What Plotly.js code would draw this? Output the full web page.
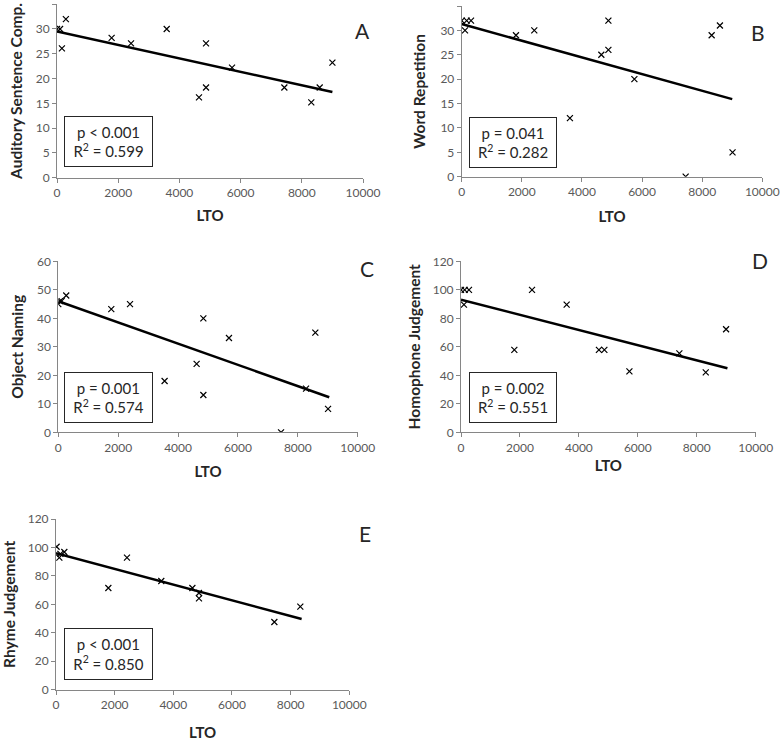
<!DOCTYPE html>
<html>
<head>
<meta charset="utf-8">
<script src="https://cdn.plot.ly/plotly-3.0.1.min.js"></script>
<style>html,body{margin:0;padding:0;background:#fff;}#chart{width:780px;height:741px;}</style>
</head>
<body>
<div id="chart"></div>
<script>
// Panel A: Auditory Sentence Comprehension
const ltoA = [0, 100, 160, 290, 1785, 2420, 3585, 4640, 4870, 4870, 5720, 7430, 8310, 8585, 9000];
const scoreA = [30, 30, 26.1, 32, 28.2, 27.1, 30, 16.2, 27.1, 18.2, 22.2, 18.2, 15.2, 18.2, 23.2];
const fitA_x = [0, 9000];
const fitA_y = [29.5, 17.3];

// Panel B: Word Repetition
const ltoB = [0, 165, 310, 110, 1805, 2415, 3600, 4645, 4880, 4880, 5745, 7450, 8315, 8590, 9010];
const scoreB = [32, 32, 32, 30, 29, 30, 12, 25, 32, 26, 20, 0, 29, 31, 5];
const fitB_x = [0, 9000];
const fitB_y = [31.3, 15.9];

// Panel C: Object Naming
const ltoC = [0, 55, 110, 265, 1770, 2395, 3550, 4620, 4845, 4845, 5700, 7440, 8275, 8585, 9010];
const scoreC = [45, 46, 46, 48, 43.2, 45, 18, 24, 40, 13.1, 33.1, 0, 15.3, 35, 8.2];
const fitC_x = [0, 9050];
const fitC_y = [46, 12.3];

// Panel D: Homophone Judgement
const ltoD = [0, 125, 270, 100, 1810, 2410, 3585, 4680, 4865, 5715, 7410, 8305, 8995];
const scoreD = [100, 100, 100, 89.6, 57.8, 100, 89.6, 57.8, 57.8, 42.8, 55.4, 42.1, 72.3];
const fitD_x = [0, 9040];
const fitD_y = [93.1, 44.9];

// Panel E: Rhyme Judgement
const ltoE = [20, 114, 150, 284, 1785, 2420, 3590, 4650, 4875, 4875, 7445, 8330];
const scoreE = [100.5, 92.8, 95.5, 96.8, 71.5, 92.8, 76.4, 71.5, 68, 64.2, 47.6, 58.4];
const fitE_x = [0, 8375];
const fitE_y = [95.9, 49.7];

const yTitles = ['Auditory Sentence Comp.', 'Word Repetition', 'Object Naming', 'Homophone Judgement', 'Rhyme Judgement'];
const panelLetters = ['A', 'B', 'C', 'D', 'E'];
const statsP = ['p < 0.001', 'p = 0.041', 'p = 0.001', 'p = 0.002', 'p < 0.001'];
const statsR2 = ['0.599', '0.282', '0.574', '0.551', '0.850'];
const yRanges = [[0, 35], [0, 35], [0, 60], [0, 120], [0, 120]];
const yDticks = [5, 5, 10, 20, 20];
const xTicks = [0, 2000, 4000, 6000, 8000, 10000];

const W = 780, H = 741;
// plot-area pixel boxes [left, right, top, bottom]
const boxes = [
  [57, 363, 4.2, 177.7],
  [461.7, 762.3, 6, 176.7],
  [58.3, 357.7, 261.3, 432.3],
  [461, 755.7, 261.3, 432.3],
  [56, 349.3, 519, 689.7]
];
const letterPos = [[362, 30], [758, 33], [367, 268], [760, 260], [365, 533]];
const statBox = [[64, 153, 116, 167], [469, 557, 117, 168], [64, 153, 372, 423], [469, 557, 372, 423], [64, 153, 628, 680]];
const xStand = [11, 13, 12, 6, 17];
const yStand = [9, 10, 9, 8, 11];

const xs = [ltoA, ltoB, ltoC, ltoD, ltoE];
const ys = [scoreA, scoreB, scoreC, scoreD, scoreE];
const fx = [fitA_x, fitB_x, fitC_x, fitD_x, fitE_x];
const fy = [fitA_y, fitB_y, fitC_y, fitD_y, fitE_y];

const font = 'Lato, "Open Sans", "Liberation Sans", sans-serif';
const traces = [];
const layout = {
  width: W, height: H,
  margin: {l: 0, r: 0, t: 0, b: 0},
  paper_bgcolor: '#ffffff', plot_bgcolor: '#ffffff',
  showlegend: false,
  font: {family: font, color: '#595959', size: 12},
  annotations: []
};

for (let i = 0; i < 5; i++) {
  const n = i === 0 ? '' : String(i + 1);
  const b = boxes[i];
  traces.push({
    x: xs[i], y: ys[i], type: 'scatter', mode: 'markers',
    xaxis: 'x' + n, yaxis: 'y' + n,
    marker: {symbol: 'x-thin-open', size: 6, color: '#000', line: {color: '#000', width: 1.2}},
    hoverinfo: 'skip'
  });
  traces.push({
    x: fx[i], y: fy[i], type: 'scatter', mode: 'lines',
    xaxis: 'x' + n, yaxis: 'y' + n,
    line: {color: '#000', width: 2.5},
    hoverinfo: 'skip'
  });
  const axStyle = {
    showgrid: false, zeroline: false, showline: true, linecolor: '#868686', linewidth: 1,
    ticks: 'outside', ticklen: 4, tickcolor: '#868686', tickwidth: 1,
    tickfont: {family: font, size: 12, color: '#595959'}, fixedrange: true
  };
  layout['xaxis' + n] = Object.assign({}, axStyle, {
    domain: [b[0] / W, b[1] / W], anchor: 'y' + n,
    range: [0, 10000], tickvals: xTicks, ticktext: xTicks.map(String),
    title: {text: 'LTO', standoff: xStand[i], font: {family: font, size: 15, color: '#262626', weight: 'bold'}}
  });
  layout['yaxis' + n] = Object.assign({}, axStyle, {
    domain: [1 - b[3] / H, 1 - b[2] / H], anchor: 'x' + n,
    range: yRanges[i], dtick: yDticks[i], tick0: 0,
    title: {text: yTitles[i], standoff: yStand[i], font: {family: font, size: 15.5, color: '#262626', weight: 'bold'}}
  });
  layout.annotations.push({
    xref: 'paper', yref: 'paper', x: letterPos[i][0] / W, y: 1 - letterPos[i][1] / H,
    xanchor: 'center', yanchor: 'middle', showarrow: false,
    text: panelLetters[i], font: {family: font, size: 21, color: '#262626'}
  });
  const sb = statBox[i];
  layout.annotations.push({
    xref: 'paper', yref: 'paper', x: (sb[0] + sb[1]) / 2 / W, y: 1 - (sb[2] + sb[3]) / 2 / H,
    xanchor: 'center', yanchor: 'middle', showarrow: false,
    width: sb[1] - sb[0] - 2, height: sb[3] - sb[2] - 2,
    bordercolor: '#262626', borderwidth: 1, bgcolor: '#ffffff', borderpad: 0,
    text: statsP[i] + '<br>R<sup>2</sup> = ' + statsR2[i],
    font: {family: font, size: 15, color: '#262626'}
  });
}

Plotly.newPlot('chart', traces, layout, {displayModeBar: false, staticPlot: true});
</script>
</body>
</html>
